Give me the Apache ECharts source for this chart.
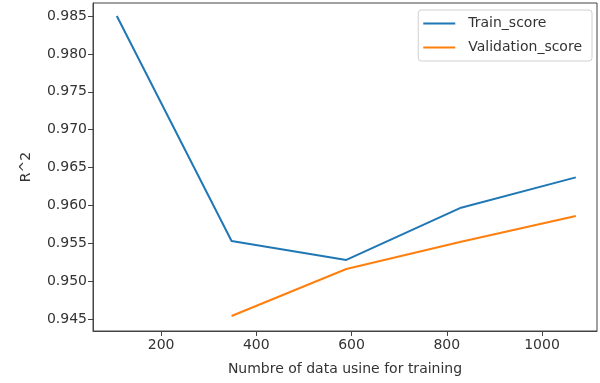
<!DOCTYPE html>
<html>
<head>
<meta charset="utf-8">
<script src="https://cdn.jsdelivr.net/npm/echarts@6/dist/echarts.min.js"></script>
<style>
  html, body { margin: 0; padding: 0; background: #fff; }
  #chart { width: 600px; height: 383px; }
</style>
</head>
<body>
<div id="chart"></div>
<script>
// Learning curve: R^2 vs number of training samples
const trainSizes = [107, 348, 589, 830, 1071];
const trainScore = [0.9850, 0.9553, 0.9528, 0.9597, 0.9637];
const validationScore = [0.9454, 0.9516, 0.9552, 0.9586];
const validationSizes = [348, 589, 830, 1071];
const xTicks = [200, 400, 600, 800, 1000];
const yTicks = [0.945, 0.950, 0.955, 0.960, 0.965, 0.970, 0.975, 0.980, 0.985];

const font = 'DejaVu Sans';
const textColor = '#333';
const axisColor = '#444';
const lineIcon = 'path://M0,0 L32,0 L32,2 L0,2 Z';

const chart = echarts.init(document.getElementById('chart'), null, { renderer: 'canvas' });
chart.setOption({
  animation: false,
  textStyle: { fontFamily: font },
  grid: {
    left: 93, right: 3, top: 3, bottom: 52,
    show: true, borderColor: axisColor, borderWidth: 1, backgroundColor: 'transparent'
  },
  legend: {
    orient: 'vertical',
    right: 8,
    top: 10,
    padding: [5, 10, 5, 5],
    itemGap: 7,
    itemWidth: 32,
    itemHeight: 2,
    icon: lineIcon,
    borderColor: '#d0d0d0',
    borderWidth: 1,
    borderRadius: 3,
    textStyle: { fontFamily: font, fontSize: 14, color: textColor, padding: [0, 0, 0, 8], lineHeight: 17 },
    data: ['Train_score', 'Validation_score']
  },
  xAxis: {
    type: 'value',
    min: 57,
    max: 1115.5,
    name: 'Numbre of data usine for training',
    nameLocation: 'middle',
    nameGap: 31,
    nameTextStyle: { fontFamily: font, fontSize: 14, color: textColor },
    axisLine: { show: true, lineStyle: { color: axisColor, width: 1 } },
    axisTick: { show: true, inside: false, length: 5, customValues: xTicks, lineStyle: { color: axisColor } },
    axisLabel: {
      customValues: xTicks, fontFamily: font, fontSize: 14, color: textColor, margin: 7,
      formatter: v => String(v)
    },
    splitLine: { show: false }
  },
  yAxis: {
    type: 'value',
    min: 0.94342,
    max: 0.98672,
    name: 'R^2',
    nameLocation: 'middle',
    nameGap: 60,
    nameRotate: 90,
    nameTextStyle: { fontFamily: font, fontSize: 14, color: textColor },
    axisLine: { show: true, lineStyle: { color: axisColor, width: 1 } },
    axisTick: { show: true, inside: false, length: 5, customValues: yTicks, lineStyle: { color: axisColor } },
    axisLabel: {
      customValues: yTicks, fontFamily: font, fontSize: 14, color: textColor, margin: 6,
      formatter: v => v.toFixed(3)
    },
    splitLine: { show: false }
  },
  series: [
    {
      name: 'Train_score',
      type: 'line',
      symbol: 'none',
      color: '#1f77b4',
      lineStyle: { width: 2, color: '#1f77b4' },
      data: trainSizes.map((x, i) => [x, trainScore[i]])
    },
    {
      name: 'Validation_score',
      type: 'line',
      symbol: 'none',
      color: '#ff7f0e',
      lineStyle: { width: 2, color: '#ff7f0e' },
      data: validationSizes.map((x, i) => [x, validationScore[i]])
    }
  ]
});
</script>
</body>
</html>
